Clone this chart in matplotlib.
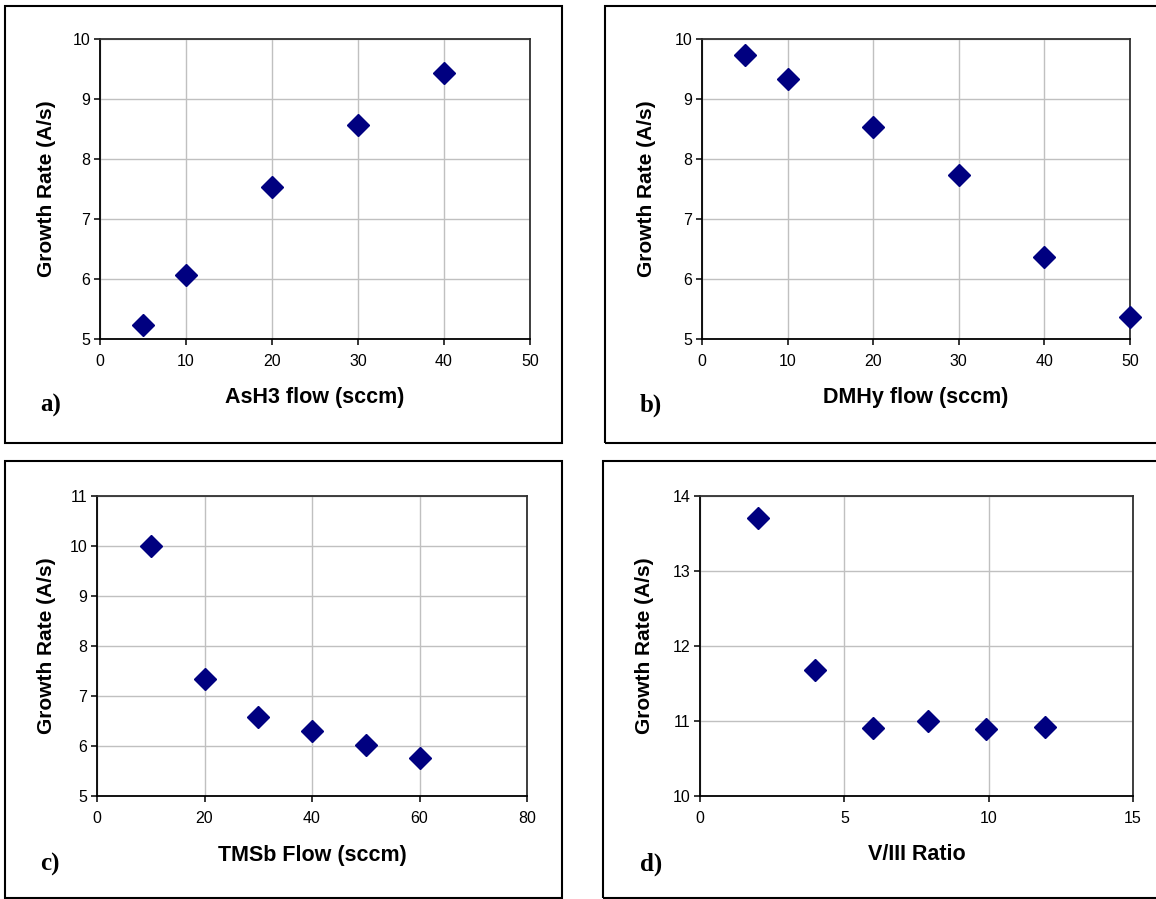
import matplotlib
matplotlib.use("Agg")
import matplotlib.pyplot as plt
from matplotlib.patches import Rectangle

# ---- data ----
asH3_flow = [5, 10, 20, 30, 40]
asH3_rate = [5.24, 6.07, 7.53, 8.56, 9.43]

dmhy_flow = [5, 10, 20, 30, 40, 50]
dmhy_rate = [9.74, 9.33, 8.53, 7.73, 6.37, 5.37]

tmsb_flow = [10, 20, 30, 40, 50, 60]
tmsb_rate = [10.0, 7.35, 6.59, 6.31, 6.03, 5.76]

v3_ratio = [2, 4, 6, 7.9, 9.9, 11.95]
v3_rate = [13.71, 11.68, 10.91, 11.0, 10.89, 10.92]

xlabels = ["AsH3 flow (sccm)", "DMHy flow (sccm)", "TMSb Flow (sccm)", "V/III Ratio"]
ylabel = "Growth Rate (A/s)"
panel_tags = ["a)", "b)", "c)", "d)"]
xlims = [(0, 50), (0, 50), (0, 80), (0, 15)]
xticks = [[0, 10, 20, 30, 40, 50], [0, 10, 20, 30, 40, 50], [0, 20, 40, 60, 80], [0, 5, 10, 15]]
ylims = [(5, 10), (5, 10), (5, 11), (10, 14)]
yticks = [[5, 6, 7, 8, 9, 10], [5, 6, 7, 8, 9, 10], [5, 6, 7, 8, 9, 10, 11], [10, 11, 12, 13, 14]]

W, H = 1156, 899
fig = plt.figure(figsize=(W / 100, H / 100), dpi=100)
plt.rcParams['font.family'] = ['Liberation Sans', 'DejaVu Sans']

def fx(px):
    return px / W

def fy(py):
    return 1 - py / H

# boxes (pixel coords: left, top, right, bottom)
boxes = [(5, 6, 562, 443), (605, 6, 1170, 443), (5, 461, 562, 898), (603, 461, 1170, 898)]
# axes (pixel coords: left, top, right, bottom)
axes_px = [(100, 39, 530, 339), (702, 39, 1130, 339), (97, 496, 527, 796), (700, 496, 1133, 796)]
ylab_x = [47, 647, 47, 645]
xlab_y = [397, 397, 855, 855]
tag_pos = [(40, 405), (640, 405), (40, 864), (640, 864)]

datasets = [(asH3_flow, asH3_rate), (dmhy_flow, dmhy_rate), (tmsb_flow, tmsb_rate), (v3_ratio, v3_rate)]

for i in range(4):
    l, t, r, b = boxes[i]
    fig.patches.append(Rectangle((fx(l), fy(b)), fx(r - l), (b - t) / H, transform=fig.transFigure,
                                 fill=False, edgecolor='black', linewidth=1.5, zorder=0))
    l, t, r, b = axes_px[i]
    ax = fig.add_axes([fx(l), fy(b), fx(r - l), (b - t) / H])
    x, y = datasets[i]
    ax.plot(x, y, linestyle='none', marker='D', markersize=10.8, color='#000080', clip_on=False, zorder=3)
    ax.set_xlim(*xlims[i])
    ax.set_ylim(*ylims[i])
    ax.set_xticks(xticks[i])
    ax.set_yticks(yticks[i])
    ax.grid(True, color='#c0c0c0', linewidth=1.0)
    ax.set_axisbelow(True)
    for s in ax.spines.values():
        s.set_color('black')
        s.set_linewidth(1.3)
    ax.spines['top'].set_color('#303030')
    ax.spines['right'].set_color('#303030')
    ax.tick_params(direction='out', length=4, width=1.1, labelsize=11.5)
    ax.tick_params(axis='x', pad=7)
    ax.tick_params(axis='y', pad=3)
    ax.set_ylabel(ylabel, fontsize=15, fontweight='bold')
    ax.yaxis.set_label_coords((ylab_x[i] - l) / (r - l), 0.5)
    ax.yaxis.label.set_va('center')
    ax.set_xlabel(xlabels[i], fontsize=15.5, fontweight='bold')
    ax.xaxis.set_label_coords(0.5, -(xlab_y[i] - b) / (b - t))
    ax.xaxis.label.set_va('center')
    tx, ty = tag_pos[i]
    fig.text(fx(tx), fy(ty), panel_tags[i], fontsize=18, fontweight='bold',
             family=['Liberation Serif', 'DejaVu Serif'], ha='left', va='center')

fig.savefig('out.png', dpi=100, facecolor='white')
